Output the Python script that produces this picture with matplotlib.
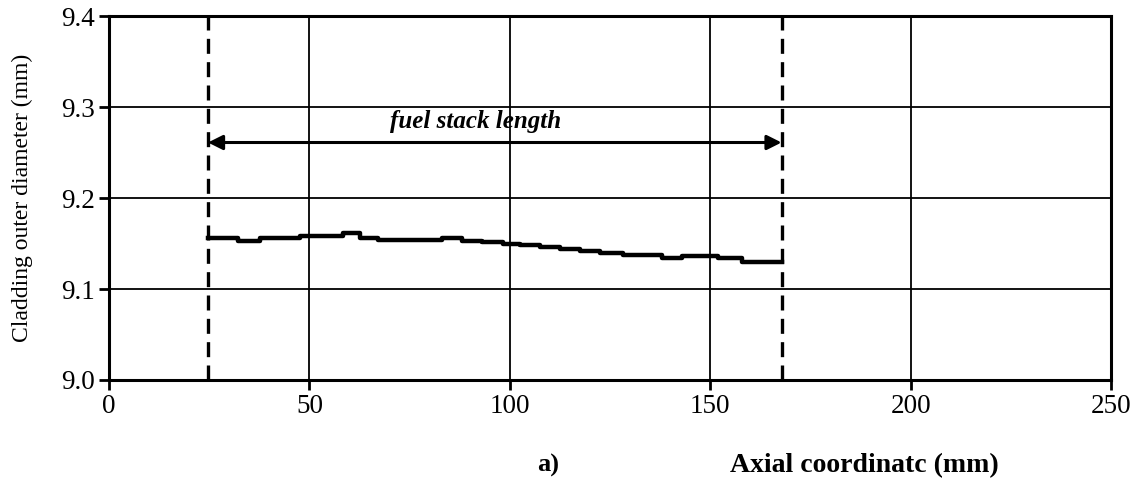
import matplotlib
matplotlib.use("Agg")
import matplotlib.pyplot as plt
import numpy as np

# Step profile: segment edges (mm) and cladding outer diameter (mm)
edges = [24.7, 32.2, 37.7, 47.6, 58.4, 62.6, 67.1, 83.0, 88.0, 93.0, 98.3,
         102.5, 107.5, 112.5, 117.5, 122.4, 128.2, 137.9, 142.9, 151.9, 157.9, 167.8]
diam = [9.1557, 9.1531, 9.1557, 9.1580, 9.1612, 9.1557, 9.1538, 9.1564, 9.1531,
        9.1516, 9.1495, 9.1484, 9.1465, 9.1440, 9.1421, 9.1399, 9.1374, 9.1337,
        9.1363, 9.1337, 9.1293]
stack_start = 24.7
stack_end = 167.8
arrow_y = 9.261
x_ticks = [0, 50, 100, 150, 200, 250]
y_ticks = [9.0, 9.1, 9.2, 9.3, 9.4]
y_ticklabels = ["9.0", "9.1", "9.2", "9.3", "9.4"]

plt.rcParams['font.family'] = ['Liberation Serif', 'DejaVu Serif']

fig = plt.figure(figsize=(11.4, 4.9), dpi=100)
ax = fig.add_axes([0.0956, 0.2245, 0.8790, 0.7428])
ax.set_xlim(0, 250)
ax.set_ylim(9.0, 9.4)
ax.set_xticks(x_ticks)
ax.set_yticks(y_ticks)
ax.set_yticklabels(y_ticklabels)
ax.grid(True, color='black', linewidth=1.3)
ax.set_axisbelow(True)
for s in ax.spines.values():
    s.set_linewidth(2.2)
ax.tick_params(axis='both', direction='out', width=2.0, length=7, labelsize=19.5, pad=3)

vals = diam + [diam[-1]]
ax.step(edges, vals, where='post', color='black', linewidth=3.2, zorder=4)

for xv in (stack_start, stack_end):
    ax.plot([xv, xv], [9.0, 9.4], color='black', linewidth=2.4,
            linestyle=(0, (4.5, 2.5)), zorder=5, clip_on=False)

ax.annotate('', xy=(stack_start, arrow_y), xytext=(stack_end, arrow_y),
            arrowprops=dict(arrowstyle='<|-|>', color='black', lw=2.2,
                            mutation_scale=22, shrinkA=0, shrinkB=0), zorder=6)
ax.text(91.5, 9.284, 'fuel stack length', fontsize=18, style='italic',
        fontweight='bold', ha='center', va='center', zorder=6)

ax.set_ylabel('Cladding outer diameter (mm)', fontsize=17, labelpad=20)
fig.text(0.481, 0.05, 'a)', fontsize=19, ha='center', va='center', fontweight='bold')
fig.text(0.758, 0.05, 'Axial coordinatc (mm)', fontsize=20, ha='center', va='center',
         fontweight='bold')

fig.savefig('out.png', dpi=100)
